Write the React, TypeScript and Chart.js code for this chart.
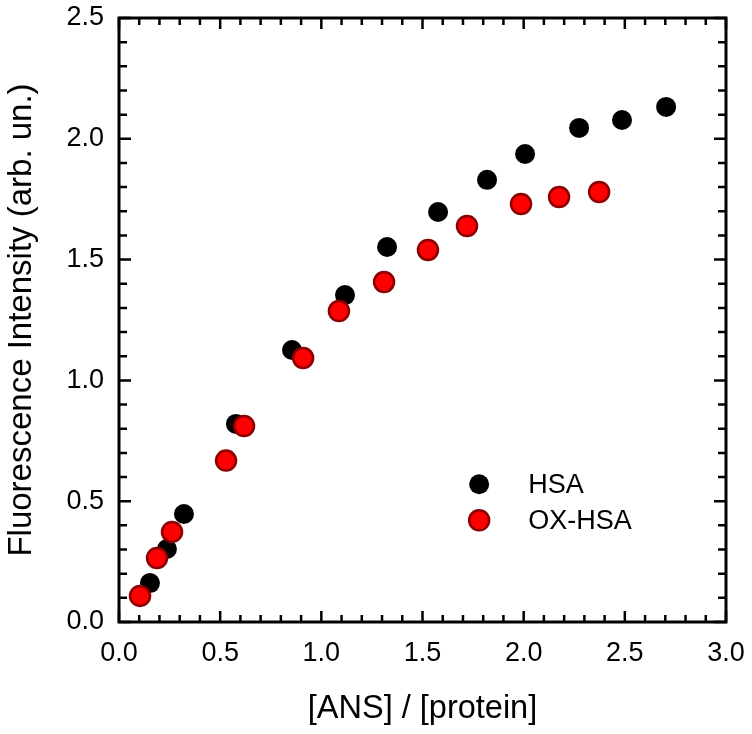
import React, { useEffect, useRef } from "react";
import { Chart, registerables } from "chart.js";

Chart.register(...registerables);

const hsaX = [0.153, 0.237, 0.321, 0.578, 0.855, 1.117, 1.325, 1.577, 1.819, 2.007, 2.274, 2.486, 2.704];
const hsaY = [0.161, 0.302, 0.447, 0.820, 1.126, 1.353, 1.552, 1.697, 1.830, 1.937, 2.045, 2.078, 2.132];
const oxX = [0.104, 0.188, 0.262, 0.529, 0.618, 0.910, 1.087, 1.310, 1.527, 1.720, 1.987, 2.175, 2.373];
const oxY = [0.108, 0.265, 0.373, 0.668, 0.811, 1.093, 1.287, 1.407, 1.540, 1.639, 1.730, 1.759, 1.780];

const legendLabels = ["HSA", "OX-HSA"];
const xTitle = "[ANS] / [protein]";
const yTitle = "Fluorescence Intensity (arb. un.)";

const FONT = "'Liberation Sans', Arial, sans-serif";

const framePlugin = {
  id: "frameTicks",
  afterDatasetsDraw(chart: any) {
    const { ctx, chartArea } = chart;
    const xs = chart.scales.x;
    const ys = chart.scales.y;
    const { left, right, top, bottom } = chartArea;
    ctx.save();
    ctx.strokeStyle = "#000";
    ctx.lineCap = "butt";
    ctx.lineWidth = 2.5;
    for (let i = 0; i <= 30; i++) {
      const v = i / 10;
      const px = xs.getPixelForValue(v);
      const major = i % 5 === 0;
      const len = major ? 11 : 7;
      ctx.beginPath();
      ctx.moveTo(px, bottom);
      ctx.lineTo(px, bottom - len);
      ctx.moveTo(px, top);
      ctx.lineTo(px, top + len);
      ctx.stroke();
    }
    for (let i = 0; i <= 25; i++) {
      const v = i / 10;
      const py = ys.getPixelForValue(v);
      const major = i % 5 === 0;
      const len = major ? 12 : 8;
      ctx.beginPath();
      ctx.moveTo(left, py);
      ctx.lineTo(left + len, py);
      ctx.moveTo(right, py);
      ctx.lineTo(right - len, py);
      ctx.stroke();
    }
    ctx.lineWidth = 3;
    ctx.strokeRect(left, top, right - left, bottom - top);

    // legend
    const lx = xs.getPixelForValue(1.78);
    const ly0 = ys.getPixelForValue(0.57);
    const gap = 36;
    const styles = [
      { fill: "#000000", stroke: "#000000", lw: 0 },
      { fill: "#ff0000", stroke: "#8b0000", lw: 2.5 },
    ];
    ctx.font = `27px ${FONT}`;
    ctx.textBaseline = "middle";
    ctx.textAlign = "left";
    legendLabels.forEach((lab, i) => {
      const cy = ly0 + i * gap;
      const s = styles[i];
      ctx.beginPath();
      ctx.arc(lx, cy, 10, 0, Math.PI * 2);
      ctx.fillStyle = s.fill;
      ctx.fill();
      if (s.lw > 0) {
        ctx.lineWidth = s.lw;
        ctx.strokeStyle = s.stroke;
        ctx.stroke();
      }
      ctx.fillStyle = "#000";
      ctx.fillText(lab, lx + 49, cy + 1);
    });
    ctx.restore();
  },
};

export default function App() {
  const ref = useRef<HTMLCanvasElement | null>(null);
  useEffect(() => {
    if (!ref.current) return;
    const chart = new Chart(ref.current, {
      type: "scatter",
      data: {
        datasets: [
          {
            label: legendLabels[0],
            data: hsaX.map((x, i) => ({ x, y: hsaY[i] })),
            backgroundColor: "#000000",
            borderColor: "#000000",
            borderWidth: 0,
            pointRadius: 10,
            order: 2,
          },
          {
            label: legendLabels[1],
            data: oxX.map((x, i) => ({ x, y: oxY[i] })),
            backgroundColor: "#ff0000",
            borderColor: "#8b0000",
            borderWidth: 2.5,
            pointRadius: 10,
            order: 1,
          },
        ],
      },
      plugins: [framePlugin],
      options: {
        animation: false,
        responsive: false,
        devicePixelRatio: 1,
        layout: { padding: { top: 18, right: 26, left: 0, bottom: 0 } },
        plugins: { legend: { display: false }, tooltip: { enabled: false } },
        scales: {
          x: {
            type: "linear",
            min: 0,
            max: 3,
            grid: { display: false, drawTicks: false },
            border: { display: false },
            ticks: {
              stepSize: 0.5,
              padding: 15,
              color: "#000",
              font: { family: FONT, size: 27 },
              callback: (v: any) => Number(v).toFixed(1),
            },
            title: {
              display: true,
              text: xTitle,
              color: "#000",
              font: { family: FONT, size: 32.5 },
              padding: { top: 0, bottom: 5 },
            },
            afterFit: (s: any) => {
              s.height = 112;
              s.paddingLeft = 0;
              s.paddingRight = 0;
            },
          },
          y: {
            type: "linear",
            min: 0,
            max: 2.5,
            grid: { display: false, drawTicks: false },
            border: { display: false },
            ticks: {
              stepSize: 0.5,
              padding: 15,
              color: "#000",
              font: { family: FONT, size: 27 },
              callback: (v: any) => Number(v).toFixed(1),
            },
            title: {
              display: true,
              text: yTitle,
              color: "#000",
              font: { family: FONT, size: 33 },
              padding: { top: 2, bottom: 0 },
            },
            afterFit: (s: any) => {
              s.width = 119;
              s.paddingTop = 0;
              s.paddingBottom = 0;
            },
          },
        },
      },
    });
    return () => chart.destroy();
  }, []);
  return (
    <div style={{ position: "absolute", left: 0, top: 0, width: 752, height: 734, background: "#fff" }}>
      <canvas ref={ref} width={752} height={734} style={{ display: "block" }} />
    </div>
  );
}
